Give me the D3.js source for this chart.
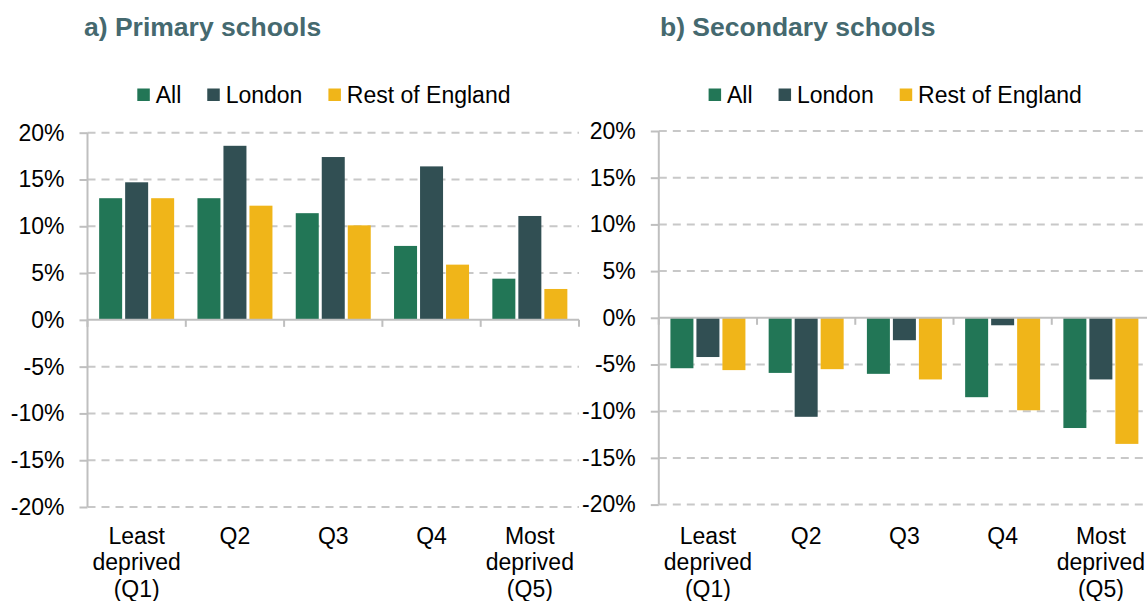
<!DOCTYPE html>
<html>
<head>
<meta charset="utf-8">
<script src="https://cdn.jsdelivr.net/npm/d3@7"></script>
<style>
html,body{margin:0;padding:0;background:#fff;}
svg{display:block;font-family:"Liberation Sans",Arial,sans-serif;}
</style>
</head>
<body>
<svg id="chart" width="1147" height="601"></svg>
<script>
// ---- data ----
const categories = ["Least deprived (Q1)", "Q2", "Q3", "Q4", "Most deprived (Q5)"];
const categoryLines = [["Least", "deprived", "(Q1)"], ["Q2"], ["Q3"], ["Q4"], ["Most", "deprived", "(Q5)"]];
const seriesNames = ["All", "London", "Rest of England"];
const primaryAll = [13.0, 13.0, 11.4, 7.9, 4.4];
const primaryLondon = [14.7, 18.6, 17.4, 16.4, 11.1];
const primaryRest = [13.0, 12.2, 10.1, 5.9, 3.3];
const secondaryAll = [-5.4, -5.9, -6.0, -8.5, -11.8];
const secondaryLondon = [-4.2, -10.6, -2.4, -0.8, -6.6];
const secondaryRest = [-5.6, -5.5, -6.6, -9.9, -13.5];
const yTicks = [20, 15, 10, 5, 0, -5, -10, -15, -20];
const titles = ["a) Primary schools", "b) Secondary schools"];

const colors = {"All": "#227656", "London": "#314f53", "Rest of England": "#f0b519"};

const panels = [
  {title: titles[0], series: [primaryAll, primaryLondon, primaryRest],
   axisX: 87.5, right: 579, yTop: 132.7, yBot: 507, titleX: 84},
  {title: titles[1], series: [secondaryAll, secondaryLondon, secondaryRest],
   axisX: 658.8, right: 1150, yTop: 131, yBot: 504.6, titleX: 660}
];

const svg = d3.select("#chart");
const gridColor = "#c8c8c8";
const axisColor = "#bfbfbf";

panels.forEach(p => {
  const g = svg.append("g");
  const x0 = d3.scaleBand().domain(categories).range([p.axisX, p.right]).padding(0);
  const groupW = 75;
  const off = (x0.bandwidth() - groupW) / 2;
  const x1 = d3.scaleBand().domain(seriesNames).range([off, off + groupW]).paddingInner(3/26).paddingOuter(0);
  const y = d3.scaleLinear().domain([-20, 20]).range([p.yBot, p.yTop]);

  // title
  g.append("text").attr("x", p.titleX).attr("y", 36)
    .attr("font-size", 26.5).attr("font-weight", "bold").attr("fill", "#45696f")
    .text(p.title);

  // gridlines
  g.append("g").selectAll("line").data(yTicks.filter(t => t !== 0)).join("line")
    .attr("x1", p.axisX).attr("x2", p.right)
    .attr("y1", d => y(d)).attr("y2", d => y(d))
    .attr("stroke", gridColor).attr("stroke-width", 2).attr("stroke-dasharray", "8,6");

  // y axis
  const yAxis = d3.axisLeft(y).tickValues(yTicks).tickSize(8).tickPadding(15)
    .tickFormat(d => d + "%");
  const ya = g.append("g").attr("transform", `translate(${p.axisX},0)`).call(yAxis);
  ya.select(".domain").remove();
  ya.selectAll(".tick line").attr("stroke", axisColor).attr("stroke-width", 2);
  ya.selectAll(".tick text").attr("font-size", 23).attr("fill", "#000")
    .attr("font-family", "'Liberation Sans', Arial, sans-serif");
  g.append("line").attr("x1", p.axisX).attr("x2", p.axisX)
    .attr("y1", y(20)).attr("y2", y(-20)).attr("stroke", axisColor).attr("stroke-width", 2);

  // bars
  const data = [];
  categories.forEach((c, i) => seriesNames.forEach((s, j) => data.push({c, s, v: p.series[j][i]})));
  g.append("g").selectAll("rect").data(data).join("rect")
    .attr("x", d => x0(d.c) + x1(d.s))
    .attr("width", x1.bandwidth())
    .attr("y", d => y(Math.max(0, d.v)))
    .attr("height", d => Math.abs(y(d.v) - y(0)))
    .attr("fill", d => colors[d.s]);

  // zero axis with boundary ticks
  g.append("line").attr("x1", p.axisX).attr("x2", p.right)
    .attr("y1", y(0)).attr("y2", y(0)).attr("stroke", axisColor).attr("stroke-width", 2);
  const bounds = categories.map(c => x0(c)).concat([p.right]);
  g.append("g").selectAll("line").data(bounds).join("line")
    .attr("x1", d => d).attr("x2", d => d)
    .attr("y1", y(0)).attr("y2", y(0) + 7)
    .attr("stroke", axisColor).attr("stroke-width", 2);

  // category labels
  const cl = g.append("g").selectAll("text").data(categories).join("text")
    .attr("x", d => x0(d) + x0.bandwidth() / 2)
    .attr("y", 543.5)
    .attr("text-anchor", "middle").attr("font-size", 23).attr("fill", "#000");
  cl.selectAll("tspan").data((d, i) => categoryLines[i]).join("tspan")
    .attr("x", function() { return d3.select(this.parentNode).attr("x"); })
    .attr("dy", (d, i) => i === 0 ? 0 : 26.5)
    .text(d => d);

  // legend
  const lg = g.append("g");
  let lx = p.axisX + 49.8;
  seriesNames.forEach(s => {
    lg.append("rect").attr("x", lx).attr("y", 88.5).attr("width", 12.5).attr("height", 12.5)
      .attr("fill", colors[s]);
    const t = lg.append("text").attr("x", lx + 18.4).attr("y", 102.5)
      .attr("font-size", 23).attr("fill", "#000").text(s);
    lx += 18.4 + t.node().getComputedTextLength() + 26;
  });
});
</script>
</body>
</html>
